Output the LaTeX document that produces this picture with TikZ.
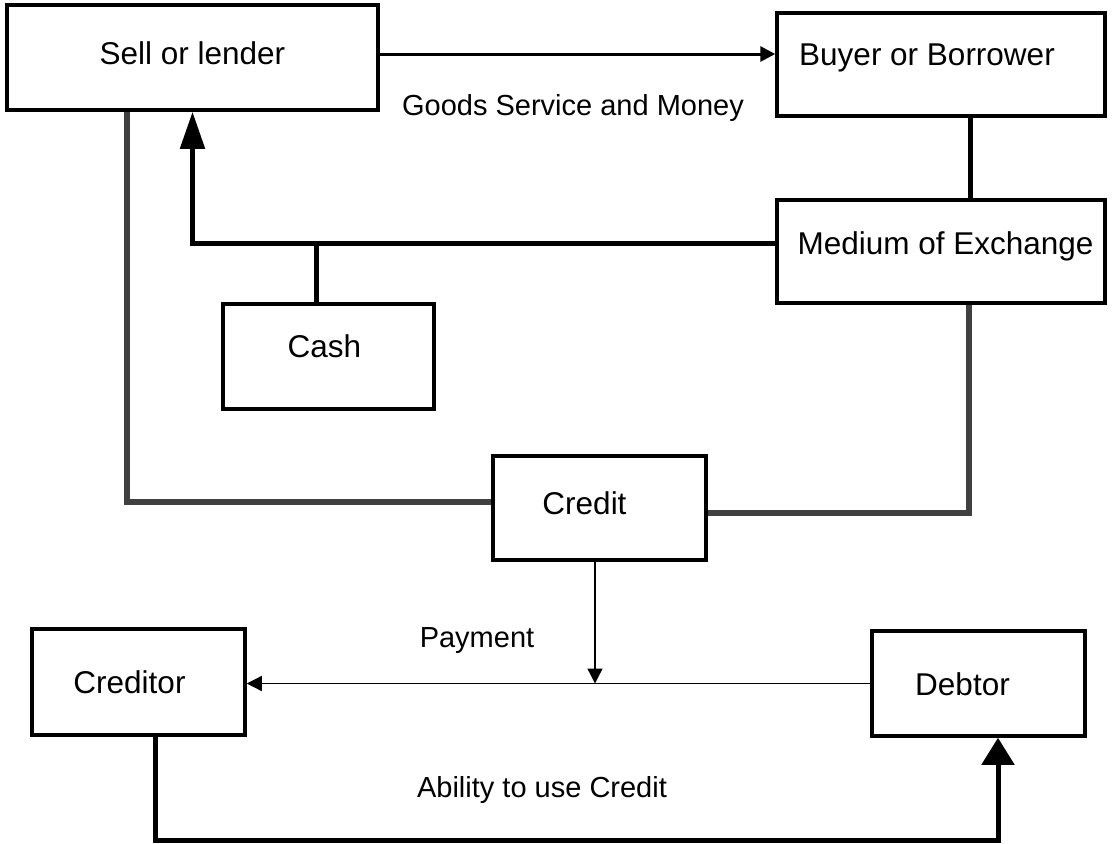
\documentclass[tikz,border=0pt]{standalone}
\usepackage{fontspec}
\setmainfont{Liberation Sans}
\usepackage{tikz}
\usetikzlibrary{arrows.meta}
\usetikzlibrary{calc}

\definecolor{linegray}{RGB}{64,64,64}

\tikzset{
	box/.style={draw,line width=3.5pt,rectangle,inner sep=0pt,text height=30pt,text depth=7pt,font=\fontsize{31.5}{36}\selectfont},
	lbl/.style={inner sep=0pt,font=\fontsize{29}{34}\selectfont},
	thickln/.style={line width=5pt},
	grayln/.style={line width=5.5pt,linegray},
	thinln/.style={line width=1.3pt,-{Triangle[length=15pt,width=15pt]}}
}

\begin{document}
\begin{tikzpicture}[x=1pt,y=-1pt]
\useasboundingbox (0,0) rectangle (1112,844);

\node[box,minimum width=371pt,minimum height=105pt,text depth=17pt] (sell) at (192.5,57.5) {Sell or lender};
\node[box,minimum width=328pt,minimum height=103pt,text depth=29pt] (buyer) at (941,64.5) {Buyer or Borrower\kern28pt};
\node[box,minimum width=328pt,minimum height=103pt,text depth=24pt] (medium) at (941,251.5) {\kern9pt Medium of Exchange};
\node[box,minimum width=211pt,minimum height=105pt,text depth=29pt] (cash) at (328.5,356.5) {Cash\kern8pt};
\node[box,minimum width=213pt,minimum height=104pt,text depth=17pt] (credit) at (599.5,508) {Credit\kern30pt};
\node[box,minimum width=213pt,minimum height=106pt] (creditor) at (138.5,682) {Creditor\kern18pt};
\node[box,minimum width=213pt,minimum height=105pt] (debtor) at (978.5,683.5) {Debtor\kern32pt};

\node[lbl] (goods) at (573,108) {Goods Service and Money};
\node[lbl] (payment) at (477,641) {Payment};
\node[lbl] (ability) at (542,790) {Ability to use Credit};

\coordinate (mediumleft) at ([yshift=8.5pt]medium.west);
\coordinate (cashtop) at ([xshift=-12.5pt]cash.north);
\coordinate (credittop) at ([xshift=-4.5pt]credit.south);
\coordinate (creditorfoot) at ([xshift=16.5pt]creditor.south);
\coordinate (debtorfoot) at ([xshift=19.5pt]debtor.south);

\draw [line width=3pt,-{Triangle[length=15pt,width=15pt]}] ([yshift=3.5pt]sell.east) -- ([yshift=3.5pt]sell.east -| buyer.west);

\draw [thickln] ([xshift=29pt]buyer.south) -- ([xshift=29pt]medium.north);
\draw [thickln,-{Triangle[length=37pt,width=24pt]}] (mediumleft) -| (sell.south);
\draw [thickln] (cashtop) -- (cashtop |- mediumleft);

\draw [grayln] ([xshift=-65.5pt]sell.south) |- ([yshift=6pt]credit.west);
\draw [grayln] ([xshift=28pt]medium.south) |- ([yshift=-5pt]credit.east);

\draw [thinln] (credittop) -- (credittop |- debtor.west);
\draw [thinln] (debtor.west) -- (debtor.west -| creditor.east);

\draw [thickln,-{Triangle[length=27pt,width=32pt]}] (creditorfoot) -- ++(0,104) -| (debtorfoot);

\end{tikzpicture}
\end{document}
